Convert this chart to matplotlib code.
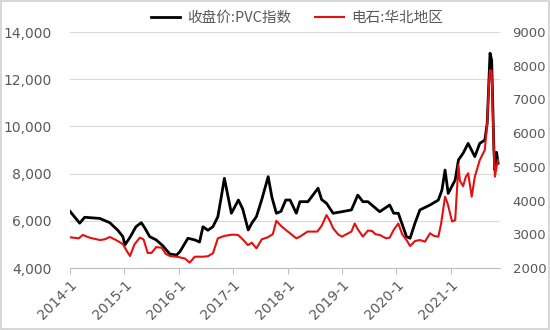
import matplotlib
matplotlib.use("Agg")
import matplotlib.pyplot as plt
import matplotlib.ticker as mticker
import pandas as pd
from matplotlib.patches import Rectangle

plt.rcParams['font.family'] = ['DejaVu Sans', 'Noto Sans CJK SC']

pvc_dates = ["2014-01-01", "2014-03-07", "2014-04-10", "2014-07-20", "2014-09-25", "2014-11-18",
             "2014-12-22", "2015-01-05", "2015-02-08", "2015-03-20", "2015-04-25", "2015-05-18",
             "2015-06-20", "2015-08-03", "2015-09-15", "2015-11-03", "2015-12-18", "2016-01-10",
             "2016-03-03", "2016-04-18", "2016-05-20", "2016-06-12", "2016-07-15", "2016-08-18",
             "2016-09-20", "2016-10-10", "2016-11-03", "2016-11-22", "2016-12-20", "2017-02-05",
             "2017-03-06", "2017-04-12", "2017-05-06", "2017-06-06", "2017-07-12", "2017-08-24",
             "2017-09-18", "2017-10-18", "2017-11-18", "2017-12-20", "2018-01-18", "2018-03-01",
             "2018-03-25", "2018-05-18", "2018-07-25", "2018-08-18", "2018-09-20", "2018-11-03",
             "2019-01-01", "2019-03-06", "2019-04-18", "2019-05-22", "2019-06-25", "2019-09-12",
             "2019-11-18", "2019-12-15", "2020-01-15", "2020-03-10", "2020-04-03", "2020-05-06",
             "2020-06-08", "2020-08-15", "2020-10-10", "2020-11-03", "2020-11-24", "2020-12-15",
             "2021-01-31", "2021-02-22", "2021-03-25", "2021-04-28", "2021-06-12", "2021-07-15",
             "2021-08-18", "2021-09-03", "2021-09-15", "2021-09-22", "2021-10-03", "2021-10-18",
             "2021-10-25", "2021-11-05", "2021-11-15"]
pvc_values = [6400, 5900, 6150, 6100, 5920, 5600,
              5330, 4980, 5300, 5750, 5920, 5700,
              5330, 5190, 4950, 4590, 4550, 4700,
              5260, 5190, 5100, 5750, 5600, 5750,
              6175, 6900, 7800, 7200, 6320, 6880,
              6500, 5610, 5900, 6175, 6900, 7870,
              7000, 6320, 6400, 6880, 6880, 6320,
              6810, 6810, 7380, 6900, 6740, 6320,
              6385, 6460, 7090, 6810, 6810, 6385,
              6670, 6320, 6320, 5330, 5260, 5900,
              6460, 6670, 6880, 7300, 8150, 7160,
              7730, 8580, 8860, 9280, 8720, 9280,
              9420, 10130, 12000, 13100, 12800, 9000,
              8150, 8900, 8440]

cc_dates = ["2014-01-01", "2014-03-01", "2014-03-28", "2014-05-12", "2014-07-20", "2014-08-22",
            "2014-09-25", "2014-11-06", "2014-12-22", "2015-01-18", "2015-02-08", "2015-03-10",
            "2015-04-15", "2015-05-10", "2015-06-07", "2015-07-03", "2015-08-03", "2015-09-10",
            "2015-10-06", "2015-11-03", "2015-12-25", "2016-02-12", "2016-03-15", "2016-04-18",
            "2016-06-12", "2016-07-15", "2016-08-18", "2016-09-20", "2016-11-01", "2016-12-25",
            "2017-02-03", "2017-03-06", "2017-04-10", "2017-05-06", "2017-06-06", "2017-07-12",
            "2017-08-20", "2017-09-24", "2017-10-18", "2017-11-18", "2017-12-20", "2018-01-18",
            "2018-03-01", "2018-03-25", "2018-05-15", "2018-07-20", "2018-08-18", "2018-09-20",
            "2018-10-12", "2018-11-03", "2018-12-06", "2019-01-01", "2019-03-06", "2019-03-28",
            "2019-04-18", "2019-05-22", "2019-06-25", "2019-07-22", "2019-08-15", "2019-09-12",
            "2019-10-25", "2019-11-18", "2019-12-15", "2020-01-15", "2020-02-10", "2020-03-10",
            "2020-04-03", "2020-05-06", "2020-06-08", "2020-07-12", "2020-08-15", "2020-09-12",
            "2020-10-10", "2020-10-28", "2020-11-24", "2020-12-12", "2021-01-10", "2021-01-31",
            "2021-02-22", "2021-03-03", "2021-03-25", "2021-04-12", "2021-04-28", "2021-05-22",
            "2021-06-12", "2021-07-15", "2021-08-18", "2021-09-03", "2021-09-15", "2021-09-22",
            "2021-10-03", "2021-10-18", "2021-10-25", "2021-11-05", "2021-11-15"]
cc_values = [2911, 2880, 2980, 2900, 2830, 2850,
             2920, 2830, 2710, 2500, 2356, 2700,
             2900, 2850, 2445, 2450, 2620, 2600,
             2420, 2356, 2330, 2280, 2160, 2335,
             2335, 2350, 2435, 2880, 2950, 2990,
             2980, 2850, 2680, 2750, 2585, 2850,
             2910, 3000, 3400, 3250, 3130, 3030,
             2880, 2930, 3080, 3080, 3250, 3570,
             3400, 3180, 3000, 2930, 3080, 3320,
             3150, 2930, 3110, 3100, 3000, 2980,
             2880, 2900, 3130, 3320, 3000, 2830,
             2650, 2800, 2830, 2780, 3030, 2950,
             2930, 3300, 4115, 3900, 3380, 3420,
             5055, 4600, 4425, 4700, 4810, 4115,
             4710, 5200, 5500, 6290, 7500, 7870,
             7850, 5500, 4710, 5000, 5200]

year_ticks = ["2014-01-01", "2015-01-01", "2016-01-01", "2017-01-01", "2018-01-01",
              "2019-01-01", "2020-01-01", "2021-01-01"]
year_labels = ["2014-1", "2015-1", "2016-1", "2017-1", "2018-1", "2019-1", "2020-1", "2021-1"]
left_ticks = [4000, 6000, 8000, 10000, 12000, 14000]
right_ticks = [2000, 3000, 4000, 5000, 6000, 7000, 8000, 9000]
names = ["收盘价:PVC指数", "电石:华北地区"]

fig = plt.figure(figsize=(5.5, 3.3), dpi=100)
fig.patches.append(Rectangle((0.002, 0.003), 0.996, 0.994, transform=fig.transFigure,
                             fill=False, edgecolor='#D0D0D0', linewidth=1.2))
ax = fig.add_axes([70/550, 1-268/330, 430/550, 236/330])
ax2 = ax.twinx()

gray = '#595959'
ax.plot(pd.to_datetime(pvc_dates), pvc_values, color='black', linewidth=2.0, label=names[0])
ax2.plot(pd.to_datetime(cc_dates), cc_values, color='#E41010', linewidth=1.5, label=names[1])

ax.set_ylim(4000, 14000)
ax2.set_ylim(2000, 9000)
ax.set_yticks(left_ticks)
ax2.set_yticks(right_ticks)
ax.yaxis.set_major_formatter(mticker.FuncFormatter(lambda v, p: f"{int(v):,}"))
ax2.yaxis.set_major_formatter(mticker.FuncFormatter(lambda v, p: f"{int(v)}"))
ax.set_xlim(pd.Timestamp("2014-01-01"), pd.Timestamp("2021-11-28"))
ax.set_xticks(pd.to_datetime(year_ticks))
ax.set_xticklabels(year_labels, rotation=45, ha='right', rotation_mode='anchor')

ax.grid(axis='y', color='#D9D9D9', linewidth=0.8)
ax.set_axisbelow(True)
for a in (ax, ax2):
    for s in ('top', 'left', 'right'):
        a.spines[s].set_visible(False)
    a.spines['bottom'].set_color('#BFBFBF')
ax2.spines['bottom'].set_visible(False)
ax.tick_params(axis='y', length=0, labelsize=10, colors=gray, pad=13)
ax2.tick_params(axis='y', length=0, labelsize=9.5, colors=gray, pad=9)
ax.tick_params(axis='x', length=4, color='#BFBFBF', labelsize=10, labelcolor=gray, pad=3)

h1, l1 = ax.get_legend_handles_labels()
h2, l2 = ax2.get_legend_handles_labels()
fig.legend(h1 + h2, l1 + l2, loc='center', bbox_to_anchor=(0.54, 0.945), ncol=2,
           frameon=False, handlelength=2.0, handletextpad=0.5, columnspacing=1.6,
           prop={'family': ['Noto Sans CJK SC', 'DejaVu Sans'], 'size': 10.5},
           labelcolor=gray)

fig.savefig("out.png", dpi=100)
